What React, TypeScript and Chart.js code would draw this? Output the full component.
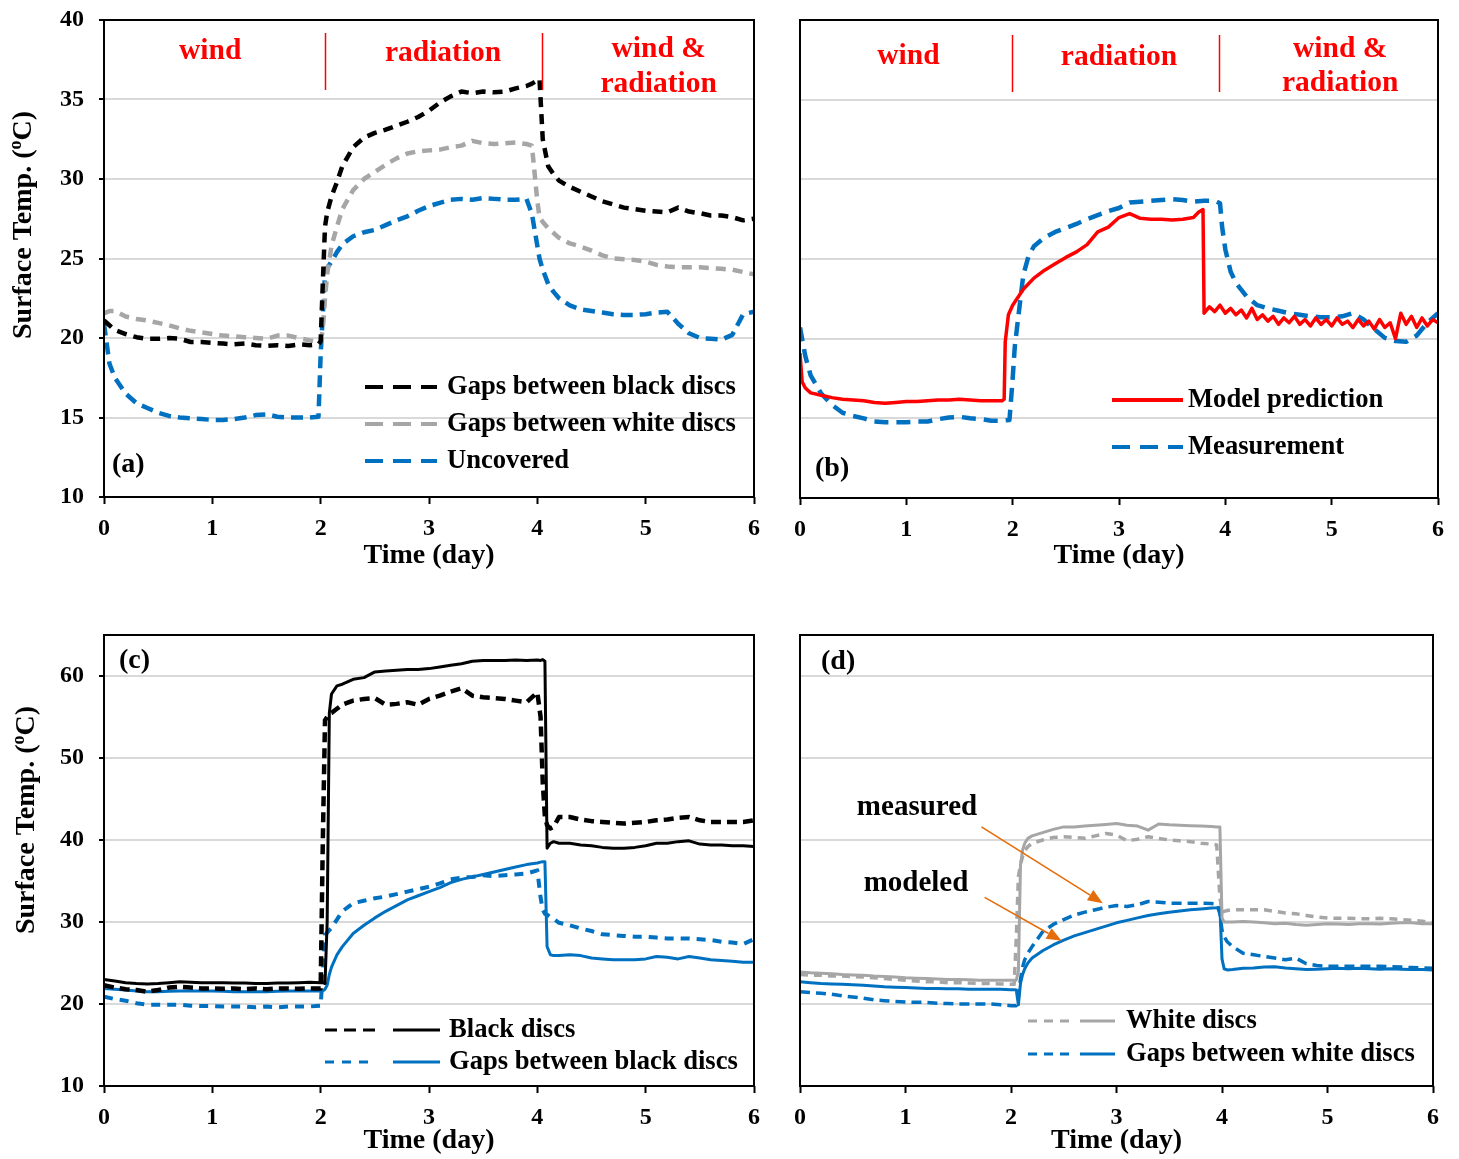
import React, { useEffect, useRef } from "react";
import { Chart, registerables } from "chart.js";
Chart.register(...registerables);

const FONT = "'Liberation Serif', 'Times New Roman', serif";
const BLACK = "#000000";
const GRAY = "#A6A6A6";
const BLUE = "#0070C0";
const RED = "#FF0000";
const ORANGE = "#E46C0A";

// ---------------- tick labels ----------------
const xTickValues = [0, 1, 2, 3, 4, 5, 6];
const yTicksTop = [10, 15, 20, 25, 30, 35, 40];
const yTicksBottom = [10, 20, 30, 40, 50, 60];

// ---------------- panel (a) ----------------
const tA = [0, 0.05, 0.1, 0.2, 0.3, 0.4, 0.5, 0.6, 0.7, 0.8, 0.9, 1.0, 1.1, 1.2, 1.3, 1.4, 1.5, 1.6, 1.7, 1.8, 1.9,
  1.98, 2.0, 2.02, 2.04, 2.06, 2.1, 2.15,
  2.2, 2.3, 2.4, 2.5, 2.6, 2.7, 2.8, 2.9, 3.0, 3.1, 3.2, 3.3, 3.4, 3.5, 3.6, 3.7, 3.8, 3.9,
  3.95, 4.0, 4.02, 4.05, 4.1, 4.15,
  4.2, 4.3, 4.4, 4.5, 4.6, 4.7, 4.8, 4.9, 5.0, 5.1, 5.2, 5.3, 5.4, 5.5, 5.6, 5.7, 5.8, 5.9, 6.0];
const aBlackGaps = [21.1, 20.8, 20.5, 20.25, 20.05, 19.95, 19.95, 20.0, 19.95, 19.75, 19.75, 19.7, 19.65, 19.6, 19.65, 19.55, 19.5, 19.55, 19.5, 19.6, 19.55,
  19.6, 19.8, 23.5, 27.0, 27.9, 28.9, 29.8,
  30.8, 32.0, 32.6, 32.9, 33.1, 33.35, 33.6, 33.9, 34.3, 34.8, 35.2, 35.5, 35.4, 35.5, 35.45, 35.5, 35.7, 35.85,
  36.0, 36.2, 36.3, 32.5, 30.8, 30.3,
  29.9, 29.5, 29.2, 28.9, 28.6, 28.4, 28.2, 28.1, 28.0, 27.95, 27.9, 28.2, 27.95, 27.85, 27.7, 27.7, 27.6, 27.4, 27.5];
const aWhiteGaps = [21.55, 21.7, 21.7, 21.35, 21.2, 21.1, 20.95, 20.8, 20.6, 20.45, 20.35, 20.25, 20.15, 20.1, 20.05, 20.0, 19.95, 20.15, 20.15, 20.0, 19.85,
  19.75, 19.8, 20.5, 22.5, 24.0, 25.8, 27.0,
  28.1, 29.3, 30.0, 30.45, 30.9, 31.3, 31.6, 31.75, 31.8, 31.85, 32.0, 32.1, 32.4, 32.25, 32.2, 32.25, 32.3, 32.2,
  32.1, 28.6, 27.6, 27.3, 26.9, 26.6,
  26.3, 25.95, 25.75, 25.5, 25.2, 25.0, 24.95, 24.9, 24.8, 24.6, 24.5, 24.45, 24.45, 24.45, 24.4, 24.35, 24.3, 24.15, 24.0];
const aUncovered = [20.9, 18.4, 17.5, 16.5, 15.9, 15.6, 15.3, 15.1, 15.0, 14.95, 14.9, 14.85, 14.85, 14.9, 15.0, 15.15, 15.2, 15.05, 15.0, 15.0, 15.0,
  15.05, 19.0, 21.5, 24.0, 24.4, 24.8, 25.4,
  25.9, 26.4, 26.65, 26.8, 27.1, 27.4, 27.65, 28.0, 28.3, 28.5, 28.7, 28.75, 28.7, 28.8, 28.75, 28.7, 28.7, 28.75,
  27.8, 25.8, 25.0, 24.3, 23.4, 22.9,
  22.5, 22.05, 21.8, 21.7, 21.6, 21.5, 21.45, 21.45, 21.5, 21.6, 21.65, 20.9, 20.3, 20.0, 19.95, 19.9, 20.2, 21.5, 21.65];

// ---------------- panel (b) ----------------
const tBModel = [0, 0.02, 0.05, 0.1, 0.2, 0.3, 0.4, 0.5, 0.6, 0.7, 0.8, 0.9, 1.0, 1.1, 1.2, 1.3, 1.4, 1.5, 1.6, 1.7, 1.8, 1.9,
  1.92, 1.93, 1.96, 2.0,
  2.1, 2.2, 2.3, 2.4, 2.5, 2.6, 2.7, 2.8, 2.9, 3.0, 3.1, 3.2, 3.3, 3.4, 3.5, 3.6, 3.7,
  3.75, 3.79, 3.8,
  3.85, 3.9, 3.95, 4.0, 4.05, 4.1, 4.15, 4.2, 4.25, 4.3, 4.35, 4.4, 4.45, 4.5, 4.55, 4.6, 4.65, 4.7, 4.75, 4.8, 4.85, 4.9, 4.95,
  5.0, 5.05, 5.1, 5.15, 5.2, 5.25, 5.3, 5.35, 5.4, 5.45, 5.5, 5.55, 5.6, 5.65, 5.7, 5.75, 5.8, 5.85, 5.9, 5.95, 6.0];
const bModel = [19.1, 17.3, 16.9, 16.6,
  16.45, 16.3, 16.2, 16.15, 16.1, 16.0, 15.95, 16.0, 16.05, 16.05, 16.1, 16.15, 16.15, 16.2, 16.15, 16.1, 16.1, 16.1,
  16.2, 19.8, 21.5, 22.1,
  23.1, 23.8, 24.3, 24.7, 25.1, 25.45, 25.9, 26.7, 27.0, 27.6, 27.85, 27.55, 27.5, 27.5, 27.45, 27.5, 27.6,
  27.95, 28.1, 21.6,
  22.0, 21.7, 22.1, 21.6, 21.9, 21.5, 21.8, 21.3, 21.9, 21.2, 21.5, 21.1, 21.4, 20.9, 21.3, 21.0, 21.4, 20.9, 21.2, 20.8, 21.3, 20.9, 21.2,
  20.8, 21.3, 20.9, 21.1, 20.7, 21.2, 20.8, 21.1, 20.6, 21.2, 20.7, 21.0, 20.0, 21.6, 20.9, 21.4, 20.7, 21.3, 20.8, 21.2, 21.0];
const tBMeas = [0, 0.05, 0.1, 0.2, 0.3, 0.4, 0.5, 0.6, 0.7, 0.8, 0.9, 1.0, 1.1, 1.2, 1.3, 1.4, 1.5, 1.6, 1.7, 1.8, 1.9,
  1.97, 2.0, 2.02, 2.05, 2.1, 2.15,
  2.2, 2.3, 2.4, 2.5, 2.6, 2.7, 2.8, 2.9, 3.0, 3.1, 3.2, 3.3, 3.4, 3.5, 3.6, 3.7, 3.8, 3.9,
  3.95, 3.97, 4.0, 4.05, 4.1,
  4.2, 4.3, 4.4, 4.5, 4.6, 4.7, 4.8, 4.9, 5.0, 5.1, 5.2, 5.3, 5.4, 5.5, 5.6, 5.7, 5.8, 5.9, 6.0];
const bMeas = [20.7, 18.9, 17.7,
  16.55, 15.85, 15.35, 15.15, 15.0, 14.8, 14.75, 14.75, 14.75, 14.8, 14.8, 14.95, 15.05, 15.1, 15.0, 14.95, 14.85, 14.85,
  14.9, 17.5, 19.5, 21.2, 24.0, 25.2,
  25.8, 26.35, 26.7, 26.95, 27.2, 27.5, 27.75, 28.0, 28.2, 28.55, 28.6, 28.65, 28.7, 28.75, 28.7, 28.6, 28.65, 28.65,
  28.5, 27.0, 25.6, 24.2, 23.5,
  22.65, 22.1, 21.9, 21.75, 21.6, 21.5, 21.4, 21.35, 21.35, 21.4, 21.6, 21.2, 20.6, 20.05, 19.85, 19.8, 20.2, 21.0, 21.6];

// ---------------- panel (c) ----------------
const tC = [0, 0.1, 0.2, 0.3, 0.4, 0.5, 0.6, 0.7, 0.8, 0.9, 1.0, 1.1, 1.2, 1.3, 1.4, 1.5, 1.6, 1.7, 1.8, 1.9, 2.0,
  2.02, 2.04, 2.06, 2.08, 2.1, 2.15,
  2.2, 2.3, 2.4, 2.5, 2.6, 2.7, 2.8, 2.9, 3.0, 3.1, 3.2, 3.3, 3.4, 3.5, 3.6, 3.7, 3.8, 3.9, 4.0,
  4.03, 4.05, 4.07, 4.09, 4.12, 4.15,
  4.2, 4.3, 4.4, 4.5, 4.6, 4.7, 4.8, 4.9, 5.0, 5.1, 5.2, 5.3, 5.4, 5.5, 5.6, 5.7, 5.8, 5.9, 6.0];
const cBlackModel = [23.0, 22.8, 22.6, 22.5, 22.45, 22.5, 22.6, 22.7, 22.65, 22.6, 22.6, 22.6, 22.55, 22.55, 22.5, 22.5, 22.55, 22.55, 22.6, 22.65, 22.6,
  22.6, 22.5, 30.0, 55.5, 57.8, 58.8,
  59.0, 59.6, 59.8, 60.5, 60.6, 60.7, 60.8, 60.8, 60.9, 61.1, 61.3, 61.5, 61.8, 61.9, 61.9, 61.9, 61.95, 61.9, 61.95,
  61.9, 62.0, 61.8, 39.0, 39.6, 39.8,
  39.6, 39.6, 39.4, 39.3, 39.1, 39.0, 39.0, 39.1, 39.3, 39.6, 39.6, 39.8, 39.9, 39.5, 39.4, 39.4, 39.3, 39.3, 39.2];
const cBlackMeas = [22.3, 22.0, 21.8, 21.7, 21.5, 21.7, 22.0, 22.1, 22.0, 21.9, 21.9, 21.85, 21.9, 21.8, 21.9, 21.8, 21.9, 21.9, 21.85, 21.9, 21.9,
  40.0, 54.6, 55.0, 55.4, 55.5, 56.0,
  56.5, 57.0, 57.2, 57.3, 56.5, 56.6, 56.8, 56.5, 57.2, 57.6, 58.1, 58.5, 57.6, 57.4, 57.3, 57.2, 57.0, 56.8, 58.0,
  55.0, 47.0, 42.8, 41.8, 41.4, 41.6,
  42.8, 42.8, 42.5, 42.3, 42.2, 42.1, 42.0, 42.1, 42.2, 42.4, 42.5, 42.7, 42.8, 42.4, 42.2, 42.2, 42.2, 42.2, 42.4];
const cGapModel = [21.9, 21.8, 21.7, 21.6, 21.5, 21.5, 21.55, 21.6, 21.6, 21.6, 21.6, 21.55, 21.5, 21.5, 21.5, 21.5, 21.55, 21.6, 21.6, 21.6, 21.6,
  21.6, 21.8, 22.3, 23.6, 24.5, 26.0,
  27.0, 28.6, 29.6, 30.5, 31.3, 32.0, 32.7, 33.2, 33.7, 34.2, 34.8, 35.2, 35.5, 35.8, 36.1, 36.4, 36.7, 37.0, 37.2,
  37.3, 37.35, 37.35, 27.0, 26.0, 25.9,
  25.9, 26.0, 25.9, 25.6, 25.5, 25.4, 25.4, 25.4, 25.5, 25.8, 25.7, 25.5, 25.8, 25.6, 25.4, 25.3, 25.2, 25.1, 25.1];
const cGapMeas = [20.9, 20.6, 20.4, 20.1, 19.9, 19.9, 19.9, 19.9, 19.8, 19.75, 19.75, 19.7, 19.7, 19.7, 19.6, 19.7, 19.6, 19.7, 19.7, 19.7, 19.8,
  24.0, 28.4, 28.7, 29.0, 29.3, 30.3,
  31.3, 32.3, 32.6, 32.9, 33.1, 33.4, 33.7, 34.0, 34.3, 34.7, 35.2, 35.4, 35.5, 35.7, 35.6, 35.7, 35.8, 35.9, 36.3,
  33.0, 31.5, 31.0, 30.9, 30.6, 30.4,
  29.9, 29.6, 29.2, 28.9, 28.5, 28.4, 28.3, 28.2, 28.2, 28.1, 28.0, 28.0, 28.0, 27.9, 27.8, 27.6, 27.5, 27.3, 27.9];

// ---------------- panel (d) ----------------
const tD = [0, 0.1, 0.2, 0.3, 0.4, 0.5, 0.6, 0.7, 0.8, 0.9, 1.0, 1.1, 1.2, 1.3, 1.4, 1.5, 1.6, 1.7, 1.8, 1.9, 2.0,
  2.03, 2.05, 2.07, 2.09, 2.11, 2.13, 2.16,
  2.2, 2.3, 2.4, 2.5, 2.6, 2.7, 2.8, 2.9, 3.0, 3.1, 3.2, 3.3, 3.4, 3.5, 3.6, 3.7, 3.8, 3.9,
  3.95, 3.98, 4.0, 4.02, 4.05, 4.1,
  4.2, 4.3, 4.4, 4.5, 4.6, 4.7, 4.8, 4.9, 5.0, 5.1, 5.2, 5.3, 5.4, 5.5, 5.6, 5.7, 5.8, 5.9, 6.0];
const dWhiteModel = [23.9, 23.8, 23.75, 23.7, 23.6, 23.55, 23.5, 23.4, 23.35, 23.3, 23.2, 23.15, 23.1, 23.05, 23.0, 23.0, 22.95, 22.9, 22.9, 22.9, 22.9,
  22.9, 22.9, 24.0, 37.0, 38.8, 39.6, 40.2,
  40.5, 40.9, 41.3, 41.6, 41.6, 41.7, 41.8, 41.9, 42.0, 41.8, 41.7, 41.2, 41.95, 41.85, 41.8, 41.75, 41.7, 41.65,
  41.6, 41.6, 30.5, 30.0, 30.0, 30.0,
  30.05, 30.0, 29.9, 29.8, 29.85, 29.7, 29.6, 29.7, 29.8, 29.75, 29.7, 29.8, 29.8, 29.75, 29.85, 29.9, 29.9, 29.8, 29.8];
const dWhiteMeas = [23.6, 23.5, 23.5, 23.4, 23.4, 23.35, 23.3, 23.2, 23.1, 23.0, 22.9, 22.8, 22.7, 22.7, 22.6, 22.6, 22.55, 22.5, 22.5, 22.45, 22.4,
  22.4, 28.0, 35.5, 37.0, 38.0, 38.7, 39.2,
  39.6, 40.0, 40.3, 40.4, 40.3, 40.2, 40.5, 40.8, 40.6, 39.9, 40.1, 40.4, 40.2, 40.0, 39.9, 39.8, 39.6, 39.5,
  39.4, 33.0, 31.2, 31.3, 31.4, 31.5,
  31.5, 31.5, 31.5, 31.3, 31.1, 31.0, 30.8, 30.6, 30.5, 30.45, 30.45, 30.4, 30.4, 30.45, 30.4, 30.3, 30.2, 30.1, 29.9];
const dGapModel = [22.7, 22.6, 22.5, 22.45, 22.4, 22.35, 22.3, 22.2, 22.1, 22.05, 22.0, 21.95, 21.9, 21.9, 21.85, 21.85, 21.8, 21.8, 21.8, 21.8, 21.75,
  21.75, 21.7, 19.9, 22.5, 23.6, 24.3, 25.0,
  25.6, 26.5, 27.2, 27.8, 28.3, 28.7, 29.1, 29.5, 29.9, 30.2, 30.5, 30.8, 31.0, 31.2, 31.35, 31.5, 31.6, 31.7,
  31.75, 31.8, 25.5, 24.3, 24.15, 24.2,
  24.35, 24.4, 24.5, 24.55, 24.4, 24.3, 24.2, 24.25, 24.3, 24.35, 24.3, 24.35, 24.3, 24.25, 24.3, 24.25, 24.2, 24.2, 24.15];
const dGapMeas = [21.5, 21.4, 21.3, 21.2, 21.0, 20.85, 20.7, 20.5, 20.4, 20.3, 20.25, 20.2, 20.2, 20.1, 20.05, 20.0, 20.0, 20.0, 20.0, 19.9, 19.8,
  19.8, 19.8, 21.0, 23.0, 24.5, 25.4, 26.2,
  27.0, 28.8, 29.7, 30.3, 30.85, 31.2, 31.5, 31.8, 32.0, 31.9, 32.1, 32.5, 32.4, 32.3, 32.3, 32.3, 32.3, 32.25,
  32.2, 31.0, 29.0, 28.2, 27.6, 27.0,
  26.2, 26.0, 25.8, 25.6, 25.4, 25.6, 24.9, 24.7, 24.6, 24.6, 24.6, 24.6, 24.6, 24.6, 24.55, 24.5, 24.45, 24.4, 24.35];

// ---------------- text ----------------
const regionNames = ["wind", "radiation", "wind &", "radiation"];
const regionBoundsA = [2.04, 4.04];
const regionBoundsB = [1.99, 3.94];
const xTitle = "Time (day)";
const legendA = ["Gaps between black discs", "Gaps between white discs", "Uncovered"];
const legendB = ["Model prediction", "Measurement"];
const legendC = ["Black discs", "Gaps between black discs"];
const legendD = ["White discs", "Gaps between white discs"];
const notesD = ["measured", "modeled"];

// ---------------- helpers ----------------
const zip = (t: number[], v: number[]) => t.map((x, i) => ({ x, y: v[i] }));
const ds = (label: string, t: number[], v: number[], color: string, width: number, dash: number[]) => ({
  label,
  data: zip(t, v),
  borderColor: color,
  backgroundColor: color,
  borderWidth: width,
  borderDash: dash,
  borderCapStyle: "butt",
  borderJoinStyle: "round",
  pointRadius: 0,
  fill: false,
  tension: 0,
});

type Sample = { x1: number; x2: number; color: string; dash: number[]; width: number };
type LegendRow = { y: number; samples: Sample[]; text: string; tx: number };
type Decor = {
  yTitle?: { x: number; y: number };
  dividers?: { t: number[]; y1: number; y2: number };
  regionLabels?: { t: number; y: number; text: string }[];
  panelLabel: { x: number; y: number; text: string };
  legend: LegendRow[];
  notes?: { x: number; y: number; text: string }[];
  arrows?: { t1: number; v1: number; t2: number; v2: number }[];
};
type PanelSpec = {
  id: string;
  left: number; top: number; w: number; h: number;
  plot: { left: number; top: number; right: number; bottom: number };
  yMin: number; yMax: number; yTicks: number[]; yLabels: boolean;
  titleBottom: number;
  datasets: any[];
  decor: Decor;
};

function drawYTitle(ctx: CanvasRenderingContext2D, cx: number, cy: number) {
  ctx.save();
  ctx.translate(cx, cy);
  ctx.rotate(-Math.PI / 2);
  const big = `bold 28px ${FONT}`;
  const small = `bold 18px ${FONT}`;
  const p1 = "Surface Temp. (";
  const p2 = "o";
  const p3 = "C)";
  ctx.font = big;
  const w1 = ctx.measureText(p1).width;
  const w3 = ctx.measureText(p3).width;
  ctx.font = small;
  const w2 = ctx.measureText(p2).width;
  let x = -(w1 + w2 + w3) / 2;
  ctx.fillStyle = "#000";
  ctx.textAlign = "left";
  ctx.textBaseline = "alphabetic";
  const base = 9;
  ctx.font = big; ctx.fillText(p1, x, base); x += w1;
  ctx.font = small; ctx.fillText(p2, x, base - 10); x += w2;
  ctx.font = big; ctx.fillText(p3, x, base);
  ctx.restore();
}

function makeDecorPlugin(spec: PanelSpec) {
  const d = spec.decor;
  return {
    id: "decor" + spec.id,
    afterDraw(chart: any) {
      const ctx: CanvasRenderingContext2D = chart.ctx;
      const ca = chart.chartArea;
      const xs = chart.scales.x;
      const ys = chart.scales.y;
      const ox = spec.left;
      const oy = spec.top;
      ctx.save();
      // frame
      ctx.setLineDash([]);
      ctx.strokeStyle = "#000";
      ctx.lineWidth = 2;
      ctx.strokeRect(ca.left, ca.top, ca.right - ca.left, ca.bottom - ca.top);

      if (d.yTitle) drawYTitle(ctx, d.yTitle.x - ox, d.yTitle.y - oy);

      // region dividers & labels
      if (d.dividers) {
        ctx.strokeStyle = RED;
        ctx.lineWidth = 1.5;
        for (const t of d.dividers.t) {
          const px = Math.round(xs.getPixelForValue(t)) + 0.5;
          ctx.beginPath();
          ctx.moveTo(px, d.dividers.y1 - oy);
          ctx.lineTo(px, d.dividers.y2 - oy);
          ctx.stroke();
        }
      }
      if (d.regionLabels) {
        ctx.fillStyle = RED;
        ctx.font = `bold 29.5px ${FONT}`;
        ctx.textAlign = "center";
        ctx.textBaseline = "middle";
        for (const r of d.regionLabels) {
          ctx.fillText(r.text, xs.getPixelForValue(r.t), r.y - oy);
        }
      }

      // panel label
      ctx.fillStyle = "#000";
      ctx.font = `bold 28px ${FONT}`;
      ctx.textAlign = "left";
      ctx.textBaseline = "middle";
      ctx.fillText(d.panelLabel.text, d.panelLabel.x - ox, d.panelLabel.y - oy);

      // legend
      for (const row of d.legend) {
        for (const s of row.samples) {
          ctx.strokeStyle = s.color;
          ctx.lineWidth = s.width;
          ctx.setLineDash(s.dash);
          ctx.lineCap = "butt";
          ctx.beginPath();
          ctx.moveTo(s.x1 - ox, row.y - oy);
          ctx.lineTo(s.x2 - ox, row.y - oy);
          ctx.stroke();
        }
        ctx.setLineDash([]);
        ctx.fillStyle = "#000";
        ctx.font = `bold 26.6px ${FONT}`;
        ctx.textAlign = "left";
        ctx.textBaseline = "middle";
        ctx.fillText(row.text, row.tx - ox, row.y - oy);
      }

      // notes
      if (d.notes) {
        ctx.fillStyle = "#000";
        ctx.font = `bold 29px ${FONT}`;
        ctx.textAlign = "center";
        ctx.textBaseline = "middle";
        for (const n of d.notes) ctx.fillText(n.text, n.x - ox, n.y - oy);
      }
      if (d.arrows) {
        for (const a of d.arrows) {
          const x1 = xs.getPixelForValue(a.t1), y1 = ys.getPixelForValue(a.v1);
          const x2 = xs.getPixelForValue(a.t2), y2 = ys.getPixelForValue(a.v2);
          const ang = Math.atan2(y2 - y1, x2 - x1);
          const hl = 15, hw = 6;
          const bx = x2 - hl * Math.cos(ang), by = y2 - hl * Math.sin(ang);
          ctx.strokeStyle = ORANGE;
          ctx.fillStyle = ORANGE;
          ctx.lineWidth = 1.6;
          ctx.setLineDash([]);
          ctx.beginPath();
          ctx.moveTo(x1, y1);
          ctx.lineTo(bx, by);
          ctx.stroke();
          ctx.beginPath();
          ctx.moveTo(x2, y2);
          ctx.lineTo(bx + hw * Math.sin(ang), by - hw * Math.cos(ang));
          ctx.lineTo(bx - hw * Math.sin(ang), by + hw * Math.cos(ang));
          ctx.closePath();
          ctx.fill();
        }
      }
      ctx.restore();
    },
  };
}

function buildConfig(p: PanelSpec): any {
  const padTop = p.plot.top - p.top;
  const padRight = p.left + p.w - p.plot.right;
  const yW = p.plot.left - p.left;
  const xH = p.top + p.h - p.plot.bottom;
  const tickFont = { family: FONT, size: 24, weight: "bold" as const };
  return {
    type: "line",
    data: { datasets: p.datasets },
    options: {
      animation: false,
      responsive: false,
      maintainAspectRatio: false,
      devicePixelRatio: 1,
      layout: { padding: { top: padTop, right: padRight, left: 0, bottom: 0 } },
      plugins: { legend: { display: false }, tooltip: { enabled: false }, title: { display: false } },
      scales: {
        x: {
          type: "linear",
          min: 0,
          max: 6,
          afterBuildTicks: (s: any) => { s.ticks = xTickValues.map((v) => ({ value: v })); },
          ticks: { color: "#000", font: tickFont, padding: 10, maxRotation: 0, autoSkip: false },
          grid: { drawOnChartArea: false, drawTicks: true, tickLength: 7, tickColor: "#000", tickWidth: 2 },
          border: { display: false },
          title: {
            display: true,
            text: xTitle,
            color: "#000",
            font: { family: FONT, size: 28, weight: "bold" },
            padding: { top: 0, bottom: p.titleBottom },
          },
          afterFit: (s: any) => { s.height = xH; s.paddingLeft = 0; s.paddingRight = 0; },
        },
        y: {
          type: "linear",
          min: p.yMin,
          max: p.yMax,
          afterBuildTicks: (s: any) => { s.ticks = p.yTicks.map((v) => ({ value: v })); },
          ticks: { display: p.yLabels, color: "#000", font: tickFont, padding: 15, autoSkip: false },
          grid: {
            color: "#D9D9D9",
            lineWidth: 2,
            drawTicks: p.yLabels,
            tickLength: 5,
            tickColor: "#000",
            tickWidth: 2,
          },
          border: { display: false },
          afterFit: (s: any) => { s.width = yW; s.paddingTop = 0; s.paddingBottom = 0; },
        },
      },
    },
    plugins: [makeDecorPlugin(p)],
  };
}

// ---------------- panel specs ----------------
const panels: PanelSpec[] = [
  {
    id: "a", left: 0, top: 0, w: 780, h: 580,
    plot: { left: 104, top: 20, right: 754, bottom: 497 },
    yMin: 10, yMax: 40, yTicks: yTicksTop, yLabels: true, titleBottom: 7,
    datasets: [
      ds(legendA[0], tA, aBlackGaps, BLACK, 4.5, [10, 7]),
      ds(legendA[1], tA, aWhiteGaps, GRAY, 4.5, [10, 7]),
      ds(legendA[2], tA, aUncovered, BLUE, 4.5, [12, 7]),
    ],
    decor: {
      yTitle: { x: 22, y: 225 },
      dividers: { t: regionBoundsA, y1: 33, y2: 90 },
      regionLabels: [
        { t: 0.98, y: 51, text: regionNames[0] },
        { t: 3.13, y: 53, text: regionNames[1] },
        { t: 5.12, y: 49, text: regionNames[2] },
        { t: 5.12, y: 84, text: regionNames[3] },
      ],
      panelLabel: { x: 112, y: 465, text: "(a)" },
      legend: [
        { y: 387, tx: 447, text: legendA[0], samples: [{ x1: 365, x2: 437, color: BLACK, dash: [18, 10], width: 4 }] },
        { y: 424, tx: 447, text: legendA[1], samples: [{ x1: 365, x2: 437, color: GRAY, dash: [18, 10], width: 4 }] },
        { y: 461, tx: 447, text: legendA[2], samples: [{ x1: 365, x2: 437, color: BLUE, dash: [18, 10], width: 4 }] },
      ],
    },
  },
  {
    id: "b", left: 780, top: 0, w: 679, h: 580,
    plot: { left: 800, top: 20, right: 1438, bottom: 498 },
    yMin: 10, yMax: 40, yTicks: yTicksTop, yLabels: false, titleBottom: 7,
    datasets: [
      ds(legendB[0], tBModel, bModel, RED, 3.5, []),
      ds(legendB[1], tBMeas, bMeas, BLUE, 4.5, [14, 8]),
    ],
    decor: {
      dividers: { t: regionBoundsB, y1: 35, y2: 92 },
      regionLabels: [
        { t: 1.02, y: 56, text: regionNames[0] },
        { t: 3.0, y: 57, text: regionNames[1] },
        { t: 5.08, y: 49, text: regionNames[2] },
        { t: 5.08, y: 83, text: regionNames[3] },
      ],
      panelLabel: { x: 815, y: 469, text: "(b)" },
      legend: [
        { y: 400, tx: 1188, text: legendB[0], samples: [{ x1: 1112, x2: 1183, color: RED, dash: [], width: 4 }] },
        { y: 447, tx: 1188, text: legendB[1], samples: [{ x1: 1112, x2: 1183, color: BLUE, dash: [18, 10], width: 4 }] },
      ],
    },
  },
  {
    id: "c", left: 0, top: 600, w: 780, h: 559,
    plot: { left: 104, top: 635, right: 754, bottom: 1086 },
    yMin: 10, yMax: 65, yTicks: yTicksBottom, yLabels: true, titleBottom: 1,
    datasets: [
      ds("Black discs (modeled)", tC, cBlackModel, BLACK, 3, []),
      ds("Black discs (measured)", tC, cBlackMeas, BLACK, 4.5, [10, 6]),
      ds("Gaps (modeled)", tC, cGapModel, BLUE, 3, []),
      ds("Gaps (measured)", tC, cGapMeas, BLUE, 4, [9, 7]),
    ],
    decor: {
      yTitle: { x: 25, y: 820 },
      panelLabel: { x: 119, y: 661, text: "(c)" },
      legend: [
        {
          y: 1030, tx: 449, text: legendC[0], samples: [
            { x1: 325, x2: 375, color: BLACK, dash: [12, 7], width: 3 },
            { x1: 393, x2: 440, color: BLACK, dash: [], width: 3 },
          ],
        },
        {
          y: 1062, tx: 449, text: legendC[1], samples: [
            { x1: 325, x2: 375, color: BLUE, dash: [9, 8], width: 3 },
            { x1: 393, x2: 440, color: BLUE, dash: [], width: 3 },
          ],
        },
      ],
    },
  },
  {
    id: "d", left: 780, top: 600, w: 679, h: 559,
    plot: { left: 800, top: 635, right: 1433, bottom: 1086 },
    yMin: 10, yMax: 65, yTicks: yTicksBottom, yLabels: false, titleBottom: 1,
    datasets: [
      ds("White discs (modeled)", tD, dWhiteModel, GRAY, 3, []),
      ds("White discs (measured)", tD, dWhiteMeas, GRAY, 3.5, [8, 6]),
      ds("Gaps (modeled)", tD, dGapModel, BLUE, 3, []),
      ds("Gaps (measured)", tD, dGapMeas, BLUE, 3.5, [10, 6]),
    ],
    decor: {
      panelLabel: { x: 821, y: 662, text: "(d)" },
      legend: [
        {
          y: 1021, tx: 1126, text: legendD[0], samples: [
            { x1: 1028, x2: 1070, color: GRAY, dash: [9, 7], width: 3 },
            { x1: 1080, x2: 1115, color: GRAY, dash: [], width: 3 },
          ],
        },
        {
          y: 1054, tx: 1126, text: legendD[1], samples: [
            { x1: 1028, x2: 1070, color: BLUE, dash: [9, 7], width: 3 },
            { x1: 1080, x2: 1115, color: BLUE, dash: [], width: 3 },
          ],
        },
      ],
      notes: [
        { x: 917, y: 808, text: notesD[0] },
        { x: 916, y: 884, text: notesD[1] },
      ],
      arrows: [
        { t1: 1.72, v1: 41.6, t2: 2.87, v2: 32.3 },
        { t1: 1.75, v1: 33.0, t2: 2.48, v2: 27.7 },
      ],
    },
  },
];

function Panel({ spec }: { spec: PanelSpec }) {
  const ref = useRef<HTMLCanvasElement>(null);
  useEffect(() => {
    const chart = new Chart(ref.current as HTMLCanvasElement, buildConfig(spec));
    return () => chart.destroy();
  }, [spec]);
  return (
    <canvas
      ref={ref}
      width={spec.w}
      height={spec.h}
      style={{ position: "absolute", left: spec.left, top: spec.top, width: spec.w, height: spec.h }}
    />
  );
}

export default function App() {
  return (
    <div style={{ position: "absolute", left: 0, top: 0, width: 1459, height: 1159, background: "#fff" }}>
      {panels.map((p) => (
        <Panel key={p.id} spec={p} />
      ))}
    </div>
  );
}
